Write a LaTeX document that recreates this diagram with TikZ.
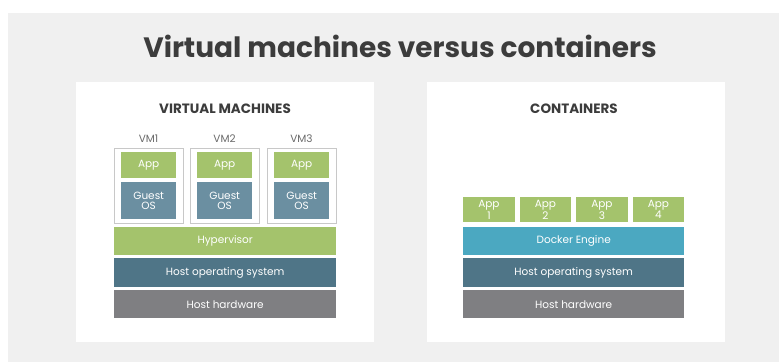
\documentclass[tikz,border=0pt]{standalone}
\usepackage{fontspec}
\setmainfont{Poppins}
\definecolor{bggray}{HTML}{F0F0F0}
\definecolor{appgreen}{HTML}{A4C36C}
\definecolor{guestblue}{HTML}{6B8FA1}
\definecolor{hostos}{HTML}{4F7587}
\definecolor{hardware}{HTML}{7F7F82}
\definecolor{docker}{HTML}{4BA8C1}
\definecolor{titlegray}{HTML}{3C3C3C}
\definecolor{labelgray}{HTML}{6A6A6A}
\definecolor{vmline}{HTML}{C8C8C8}
\tikzset{
  panel/.style={fill=white, inner sep=0pt, anchor=north west},
  layer/.style={inner sep=0pt, anchor=north west, text=white, align=center,
    font=\fontsize{10.5}{11}\selectfont},
  vmframe/.style={draw=vmline, line width=0.8pt, inner sep=0pt, anchor=north west},
  heading/.style={text=titlegray, font=\fontsize{13.5}{14}\selectfont\bfseries},
  vmlabel/.style={text=labelgray, font=\fontsize{10.5}{10.5}\selectfont}
}
\begin{document}
\begin{tikzpicture}[x=1pt, y=-1pt]
\useasboundingbox (0,0) rectangle (779,362);
% page background
\fill[bggray] (8,13) rectangle (779,362);
% title
\node[text=titlegray, font=\fontsize{28}{30}\selectfont\bfseries] (title) at (400,46) {Virtual machines versus containers};

% ---- virtual machines panel ----
\node[panel, minimum width=298pt, minimum height=260pt] (vmpanel) at (76,82) {};
\node[heading] (vmhead) at (225,109) {VIRTUAL MACHINES};
\foreach \i/\x in {1/114, 2/190, 3/267} {
  \node[vmlabel] (vmlab\i) at (\x+34.5,139) {VM\i};
  \node[vmframe, minimum width=69pt, minimum height=75pt] (vm\i) at (\x,148) {};
  \node[layer, fill=appgreen, minimum width=55pt, minimum height=26pt] (app\i) at (\x+7,152) {App};
  \node[layer, fill=guestblue, minimum width=55pt, minimum height=37pt,
        font=\fontsize{10.5}{10.5}\selectfont] (guest\i) at (\x+7,182) {Guest\\OS};
}
\node[layer, fill=appgreen, minimum width=222pt, minimum height=28pt] (hyper) at (114,227) {Hypervisor};
\node[layer, fill=hostos, minimum width=222pt, minimum height=29pt] (vmhostos) at (114,258) {Host operating system};
\node[layer, fill=hardware, minimum width=222pt, minimum height=28pt] (vmhw) at (114,290) {Host hardware};

% ---- containers panel ----
\node[panel, minimum width=298pt, minimum height=260pt] (ctpanel) at (427,82) {};
\node[heading] (cthead) at (574,109) {CONTAINERS};
\foreach \i/\x in {1/463, 2/519.5, 3/576, 4/632.5} {
  \node[layer, fill=appgreen, minimum width=51.5pt, minimum height=25pt,
        font=\fontsize{10.5}{8.5}\selectfont] (capp\i) at (\x,197) {App\\\i};
}
\node[layer, fill=docker, minimum width=221pt, minimum height=28pt] (engine) at (463,227) {Docker Engine};
\node[layer, fill=hostos, minimum width=221pt, minimum height=29pt] (cthostos) at (463,258) {Host operating system};
\node[layer, fill=hardware, minimum width=221pt, minimum height=28pt] (cthw) at (463,290) {Host hardware};
\end{tikzpicture}
\end{document}
